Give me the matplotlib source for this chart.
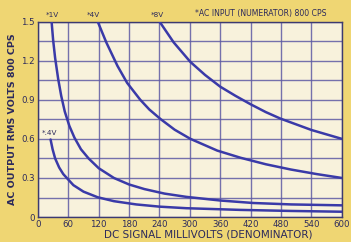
import matplotlib.pyplot as plt

# Данные (милливольты постоянного тока -> вольты на выходе)
mv_1v = [27, 30, 34, 40, 46, 53, 62, 72, 85, 100, 120, 150, 180, 210, 250, 293, 360, 425, 500, 600]
out_1v = [1.5, 1.36, 1.22, 1.06, 0.93, 0.81, 0.70, 0.61, 0.52, 0.45, 0.375, 0.30, 0.25, 0.215, 0.18, 0.155, 0.127, 0.108, 0.097, 0.09]

mv_4v = [118, 135, 157, 176, 202, 220, 242, 270, 301, 354, 400, 450, 499, 550, 600]
out_4v = [1.5, 1.34, 1.16, 1.03, 0.9, 0.825, 0.752, 0.67, 0.6, 0.51, 0.455, 0.405, 0.365, 0.33, 0.30]

mv_8v = [240, 268, 301, 330, 360, 390, 420, 450, 479, 540, 600]
out_8v = [1.5, 1.34, 1.19, 1.09, 1.0, 0.93, 0.865, 0.805, 0.755, 0.668, 0.6]

mv_04v = [25, 29, 34, 42, 50, 57, 70, 90, 118, 150, 194, 240, 293, 400, 500, 600]
out_04v = [0.595, 0.52, 0.45, 0.38, 0.33, 0.3, 0.245, 0.195, 0.152, 0.122, 0.097, 0.08, 0.068, 0.055, 0.047, 0.041]

x_ticks = [0, 60, 120, 180, 240, 300, 360, 420, 480, 540, 600]
y_ticks = [0, 0.3, 0.6, 0.9, 1.2, 1.5]
y_tick_labels = ['0', '0.3', '0.6', '0.9', '1.2', '1.5']

curve_labels = ['*1V', '*4V', '*8V', '*.4V']

# Цвета
bg_color = '#efd673'
face_color = '#f8f2dc'
line_color = '#3a3aa8'
grid_color = '#5e5aa4'
text_color = '#2c2a5c'

plt.rcParams['font.family'] = ['Liberation Sans Narrow', 'DejaVu Sans']

fig = plt.figure(figsize=(3.51, 2.42), dpi=100, facecolor=bg_color)
ax = fig.add_axes([0.108, 0.103, 0.866, 0.808])
ax.set_facecolor(face_color)

for xs, ys in [(mv_1v, out_1v), (mv_4v, out_4v), (mv_8v, out_8v), (mv_04v, out_04v)]:
    ax.plot(xs, ys, color=line_color, linewidth=1.8, solid_capstyle='round',
            solid_joinstyle='round', zorder=3)

ax.set_xlim(0, 600)
ax.set_ylim(0, 1.5)

# Сетка через каждые 60 мВ и 0.15 В
ax.set_yticks([v * 0.15 for v in range(11)], minor=True)
ax.set_xticks(x_ticks)
ax.grid(True, which='both', color=grid_color, linewidth=1.0, alpha=0.85)

ax.set_xticklabels([str(v) for v in x_ticks], fontsize=6.2, color=text_color)
ax.set_yticks(y_ticks)
ax.set_yticklabels(y_tick_labels, fontsize=6.2, color=text_color)
ax.tick_params(which='both', length=0, pad=2)

for side in ax.spines.values():
    side.set_color('#3c3a70')
    side.set_linewidth(1.0)

ax.set_xlabel('DC SIGNAL MILLIVOLTS (DENOMINATOR)', fontsize=7.5, color=text_color, labelpad=0)
ax.xaxis.set_label_coords(0.56, -0.065)
ax.set_ylabel('AC OUTPUT RMS VOLTS 800 CPS', fontsize=6.8, color=text_color, fontweight='bold', labelpad=3)

# Подписи кривых
ax.text(mv_1v[0] + 2, 1.53, curve_labels[0], fontsize=5.2, color=text_color, ha='center', va='bottom')
ax.text(mv_4v[0] - 8, 1.53, curve_labels[1], fontsize=5.2, color=text_color, ha='center', va='bottom')
ax.text(mv_8v[0] - 4, 1.53, curve_labels[2], fontsize=5.2, color=text_color, ha='center', va='bottom')
ax.text(mv_04v[0] - 2, out_04v[0] + 0.03, curve_labels[3], fontsize=5.2, color=text_color, ha='center', va='bottom')
ax.text(0.95, 1.02, '*AC INPUT (NUMERATOR) 800 CPS', fontsize=5.6, color=text_color,
        ha='right', va='bottom', transform=ax.transAxes, clip_on=False)

plt.savefig('out.png', dpi=100, facecolor=bg_color)
